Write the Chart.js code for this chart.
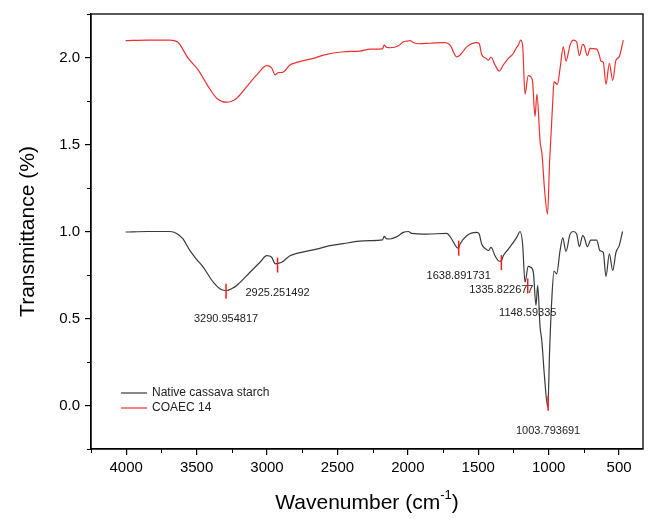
<!DOCTYPE html>
<html lang="en">
<head>
  <meta charset="UTF-8" />
  <title>FTIR spectra</title>
  <script src="https://cdn.jsdelivr.net/npm/chart.js"></script>
  <style>
    body { margin: 0; background: #fff; }
    canvas { display: block; }
  </style>
</head>
<body>
<canvas id="grafico" width="650" height="521"></canvas>
<script>
  // Native cassava starch (black)
  const nativeWn = [4004, 3850, 3689, 3642, 3600, 3547, 3500, 3453, 3382, 3322, 3286, 3250, 3215, 3121, 3050, 3002, 2967, 2941, 2920, 2896, 2837, 2789, 2648, 2553, 2458, 2363, 2268, 2180, 2168, 2150, 2126, 2079, 2032, 1996, 1973, 1866, 1724, 1689, 1653, 1640, 1629, 1582, 1511, 1493, 1476, 1445, 1428, 1409, 1381, 1350, 1336, 1322, 1286, 1251, 1227, 1203, 1185, 1168, 1145, 1128, 1109, 1090, 1078, 1061, 1049, 1030, 1006, 993, 978, 962, 943, 919, 900, 877, 848, 825, 801, 782, 758, 747, 725, 701, 659, 636, 612, 593, 569, 545, 522, 499, 475];
  const nativeT = [0.997, 1.0, 1.0, 0.989, 0.96, 0.89, 0.84, 0.795, 0.709, 0.665, 0.661, 0.672, 0.69, 0.766, 0.823, 0.861, 0.852, 0.814, 0.817, 0.823, 0.861, 0.874, 0.899, 0.919, 0.93, 0.943, 0.948, 0.952, 0.972, 0.958, 0.957, 0.97, 0.995, 1.0, 0.989, 0.985, 0.989, 0.957, 0.909, 0.905, 0.928, 0.976, 0.995, 0.985, 0.928, 0.899, 0.89, 0.909, 0.861, 0.829, 0.83, 0.861, 0.899, 0.937, 0.966, 1.0, 0.928, 0.709, 0.799, 0.795, 0.766, 0.576, 0.69, 0.452, 0.376, 0.17, -0.01, 0.32, 0.605, 0.772, 0.757, 0.89, 0.963, 0.886, 0.985, 1.0, 0.985, 0.913, 0.976, 0.966, 0.913, 0.951, 0.951, 0.89, 0.88, 0.741, 0.871, 0.776, 0.88, 0.919, 1.0];

  // COAEC 14 (red)
  const coaecWn = [4004, 3850, 3689, 3637, 3559, 3488, 3417, 3357, 3286, 3215, 3144, 3073, 3002, 2967, 2943, 2920, 2889, 2837, 2789, 2671, 2600, 2458, 2340, 2268, 2180, 2168, 2150, 2126, 2067, 2032, 2008, 1984, 1961, 1925, 1842, 1736, 1700, 1653, 1629, 1582, 1511, 1493, 1476, 1445, 1428, 1409, 1381, 1350, 1322, 1286, 1251, 1232, 1215, 1199, 1185, 1168, 1145, 1128, 1114, 1097, 1083, 1061, 1047, 1030, 1008, 993, 971, 962, 938, 919, 896, 877, 848, 825, 801, 782, 758, 749, 725, 706, 659, 640, 630, 612, 593, 569, 545, 522, 499, 470];
  const coaecT = [2.097, 2.1, 2.1, 2.09, 1.995, 1.928, 1.833, 1.766, 1.743, 1.766, 1.833, 1.9, 1.953, 1.941, 1.9, 1.913, 1.915, 1.957, 1.972, 1.995, 2.014, 2.033, 2.037, 2.048, 2.05, 2.071, 2.058, 2.056, 2.067, 2.09, 2.094, 2.097, 2.086, 2.079, 2.082, 2.086, 2.071, 2.004, 2.014, 2.061, 2.086, 2.08, 2.017, 1.995, 1.985, 2.003, 1.957, 1.922, 1.957, 1.995, 2.023, 2.052, 2.071, 2.1, 2.071, 1.789, 1.896, 1.89, 1.861, 1.661, 1.789, 1.519, 1.443, 1.25, 1.1, 1.405, 1.747, 1.861, 1.846, 1.937, 2.061, 1.98, 2.071, 2.1, 2.09, 2.01, 2.075, 2.071, 2.01, 2.052, 2.048, 2.014, 1.98, 1.972, 1.846, 1.966, 1.869, 1.985, 2.004, 2.1];

  // Picos marcados en la curva nativa
  const peakWn = [3290.954817, 2925.251492, 1638.891731, 1335.822677, 1148.59335, 1003.793691];
  const peakT = [0.66, 0.81, 0.907, 0.824, 0.69, 0.016];
  const peakLabels = ['3290.954817', '2925.251492', '1638.891731', '1335.822677', '1148.59335', '1003.793691'];

  // Ticks
  const xTickValues = [4250, 4000, 3750, 3500, 3250, 3000, 2750, 2500, 2250, 2000, 1750, 1500, 1250, 1000, 750, 500];
  const xTickLabels = [4000, 3500, 3000, 2500, 2000, 1500, 1000, 500];
  const yTickValues = [-0.25, 0, 0.25, 0.5, 0.75, 1.0, 1.25, 1.5, 1.75, 2.0, 2.25];
  const yTickLabels = [0, 0.5, 1.0, 1.5, 2.0];

  const seriesNames = ['Native cassava starch', 'COAEC 14'];
  const seriesColors = ['#3a3a3a', '#ee3030'];

  const FONT = "'Liberation Sans', Arial, sans-serif";

  const toPoints = (wn, t) => wn.map((w, i) => ({ x: w, y: t[i] }));

  // Plugin: marco, ticks menores, picos, leyenda y titulo X
  const decorPlugin = {
    id: 'decor',
    afterDraw(chart) {
      const { ctx, chartArea: a, scales } = chart;
      const sx = scales.x, sy = scales.y;
      ctx.save();

      // marco superior/derecho
      ctx.strokeStyle = '#000';
      ctx.lineWidth = 1.3;
      ctx.strokeRect(a.left, a.top, a.right - a.left, a.bottom - a.top);

      // ticks menores
      ctx.lineWidth = 1;
      ctx.beginPath();
      xTickValues.filter(v => !xTickLabels.includes(v)).forEach(v => {
        const px = Math.round(sx.getPixelForValue(v)) + 0.5;
        ctx.moveTo(px, a.bottom);
        ctx.lineTo(px, a.bottom + 4);
      });
      yTickValues.filter(v => !yTickLabels.includes(v)).forEach(v => {
        const py = Math.round(sy.getPixelForValue(v)) + 0.5;
        ctx.moveTo(a.left, py);
        ctx.lineTo(a.left - 4, py);
      });
      ctx.stroke();

      // picos
      ctx.font = '11px ' + FONT;
      ctx.textAlign = 'center';
      ctx.textBaseline = 'middle';
      peakWn.forEach((w, i) => {
        const px = sx.getPixelForValue(w);
        const py = sy.getPixelForValue(peakT[i]);
        ctx.strokeStyle = '#ff1a1a';
        ctx.lineWidth = 1.5;
        ctx.beginPath();
        ctx.moveTo(px, py - 7);
        ctx.lineTo(px, py + 8);
        ctx.stroke();
        ctx.fillStyle = '#222';
        ctx.fillText(peakLabels[i], px, py + 28);
      });

      // leyenda
      ctx.textAlign = 'left';
      ctx.font = '12px ' + FONT;
      seriesNames.forEach((name, i) => {
        const ly = a.bottom - 56 + i * 15;
        ctx.strokeStyle = seriesColors[i];
        ctx.lineWidth = 1.2;
        ctx.beginPath();
        ctx.moveTo(a.left + 30, ly);
        ctx.lineTo(a.left + 56, ly);
        ctx.stroke();
        ctx.fillStyle = '#222';
        ctx.fillText(name, a.left + 61, ly);
      });

      // titulo X con superindice
      const main = 'Wavenumber (cm';
      const sup = '-1';
      const end = ')';
      ctx.fillStyle = '#000';
      ctx.font = '21px ' + FONT;
      const w1 = ctx.measureText(main).width;
      const w3 = ctx.measureText(end).width;
      ctx.font = '13px ' + FONT;
      const w2 = ctx.measureText(sup).width;
      const total = w1 + w2 + w3;
      const cx = (a.left + a.right) / 2;
      const ty = 503;
      let x0 = cx - total / 2;
      ctx.textBaseline = 'middle';
      ctx.font = '21px ' + FONT;
      ctx.fillText(main, x0, ty);
      ctx.font = '13px ' + FONT;
      ctx.fillText(sup, x0 + w1, ty - 8);
      ctx.font = '21px ' + FONT;
      ctx.fillText(end, x0 + w1 + w2, ty);

      ctx.restore();
    }
  };

  const grafico = new Chart(document.getElementById('grafico'), {
    type: 'scatter',
    data: {
      datasets: [
        {
          label: seriesNames[0],
          data: toPoints(nativeWn, nativeT),
          borderColor: seriesColors[0],
          showLine: true,
          borderWidth: 1.2,
          pointRadius: 0,
          cubicInterpolationMode: 'monotone'
        },
        {
          label: seriesNames[1],
          data: toPoints(coaecWn, coaecT),
          borderColor: seriesColors[1],
          showLine: true,
          borderWidth: 1.2,
          pointRadius: 0,
          cubicInterpolationMode: 'monotone'
        }
      ]
    },
    options: {
      responsive: false,
      animation: false,
      layout: { padding: { top: 12, right: 7, left: 0, bottom: 0 } },
      plugins: {
        legend: { display: false },
        tooltip: { enabled: false }
      },
      scales: {
        x: {
          type: 'linear',
          reverse: true,
          min: 330,
          max: 4250,
          afterBuildTicks: s => { s.ticks = xTickValues.map(v => ({ value: v })); },
          afterFit: s => { s.height = 72; },
          ticks: {
            autoSkip: false,
            maxRotation: 0,
            padding: 4,
            color: '#000',
            font: { family: FONT, size: 15 },
            callback: v => xTickLabels.includes(v) ? String(v) : ''
          },
          grid: {
            drawOnChartArea: false,
            tickLength: 6,
            lineWidth: 1.2,
            color: c => (c.tick && xTickLabels.includes(c.tick.value)) ? '#000' : 'rgba(0,0,0,0)'
          },
          border: { color: '#000', width: 1.3 }
        },
        y: {
          type: 'linear',
          min: -0.25,
          max: 2.25,
          afterBuildTicks: s => { s.ticks = yTickValues.map(v => ({ value: v })); },
          afterFit: s => { s.width = 91; },
          ticks: {
            autoSkip: false,
            padding: 5,
            color: '#000',
            font: { family: FONT, size: 15 },
            callback: v => yTickLabels.includes(v) ? v.toFixed(1) : ''
          },
          grid: {
            drawOnChartArea: false,
            tickLength: 6,
            lineWidth: 1.2,
            color: c => (c.tick && yTickLabels.includes(c.tick.value)) ? '#000' : 'rgba(0,0,0,0)'
          },
          border: { color: '#000', width: 1.3 },
          title: {
            display: true,
            text: 'Transmittance (%)',
            color: '#000',
            font: { family: FONT, size: 21 },
            padding: { top: 16, bottom: 0 }
          }
        }
      }
    },
    plugins: [decorPlugin]
  });
</script>
</body>
</html>
